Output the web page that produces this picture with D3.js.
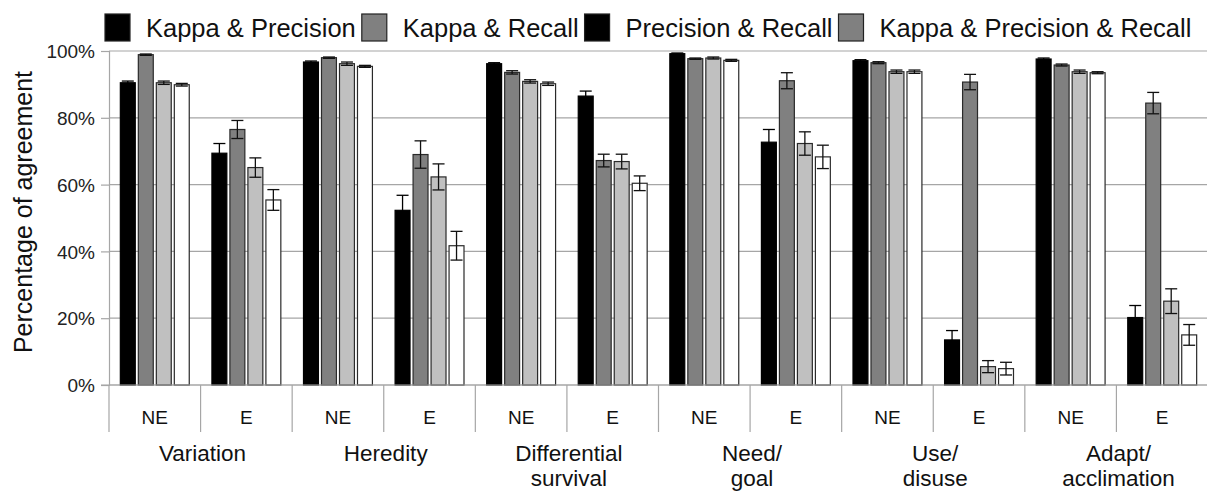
<!DOCTYPE html>
<html>
<head>
<meta charset="utf-8">
<script src="https://cdn.jsdelivr.net/npm/d3@7"></script>
<style>
  html, body { margin: 0; padding: 0; background: #fff; }
  svg { display: block; font-family: "Liberation Sans", Arial, sans-serif; }
</style>
</head>
<body>
<div id="chart"></div>
<script>
// --- data ---
const groups = ["Variation", "Heredity", "Differential\nsurvival", "Need/\ngoal", "Use/\ndisuse", "Adapt/\nacclimation"];
const subLabels = ["NE", "E"];
const seriesNames = ["Kappa & Precision", "Kappa & Recall", "Precision & Recall", "Kappa & Precision & Recall"];
const barColors = ["#000000", "#808080", "#c0c0c0", "#ffffff"];
const legendColors = ["#000000", "#808080", "#000000", "#808080"];

const kappaPrecision = [90.5, 69.4, 96.7, 52.3, 96.2, 86.5, 99.2, 72.7, 97.1, 13.5, 97.6, 20.2];
const kappaRecall = [98.9, 76.5, 98.0, 69.0, 93.6, 67.2, 97.7, 91.1, 96.5, 90.7, 95.8, 84.4];
const precisionRecall = [90.5, 65.1, 96.2, 62.3, 90.9, 66.9, 97.9, 72.3, 93.8, 5.5, 93.8, 25.1];
const allThree = [89.9, 55.4, 95.4, 41.7, 90.2, 60.4, 97.2, 68.3, 93.8, 4.9, 93.5, 15.0];

const errKappaPrecision = [0.5, 2.9, 0.3, 4.5, 0.3, 1.5, 0.2, 3.8, 0.3, 2.8, 0.3, 3.6];
const errKappaRecall = [0.2, 2.7, 0.2, 4.1, 0.5, 1.9, 0.2, 2.4, 0.3, 2.3, 0.3, 3.2];
const errPrecisionRecall = [0.5, 2.9, 0.5, 3.9, 0.5, 2.2, 0.3, 3.5, 0.5, 1.8, 0.5, 3.7];
const errAllThree = [0.4, 3.1, 0.3, 4.3, 0.5, 2.2, 0.3, 3.5, 0.5, 1.9, 0.3, 3.1];

const yTicks = [0, 20, 40, 60, 80, 100];

// --- build ---
const values = [kappaPrecision, kappaRecall, precisionRecall, allThree];
const errors = [errKappaPrecision, errKappaRecall, errPrecisionRecall, errAllThree];
const cats = [];
groups.forEach((g, gi) => subLabels.forEach(s => cats.push({ id: gi + "-" + s, group: gi, label: s })));

const width = 1207, height = 493;
const margin = { left: 109, right: -1, top: 51, bottom: 108 };

const svg = d3.select("#chart").append("svg")
  .attr("width", width).attr("height", height);

const x0 = d3.scaleBand()
  .domain(cats.map(d => d.id))
  .range([margin.left, width - margin.right]);
const x1 = d3.scaleBand()
  .domain(d3.range(seriesNames.length))
  .range([0, x0.bandwidth()])
  .paddingInner(0.17)
  .paddingOuter(0.63);
const y = d3.scaleLinear()
  .domain([0, 100])
  .range([height - margin.bottom, margin.top]);

// gridlines
svg.append("g").selectAll("line")
  .data(yTicks)
  .join("line")
  .attr("x1", margin.left).attr("x2", width)
  .attr("y1", d => y(d)).attr("y2", d => y(d))
  .attr("stroke", "#a6a6a6").attr("stroke-width", 1.2);

// y axis
const yAxis = svg.append("g")
  .attr("transform", `translate(${margin.left},0)`)
  .call(d3.axisLeft(y).tickValues(yTicks).tickSize(8).tickPadding(6).tickFormat(d => d + "%"));
yAxis.select(".domain").attr("stroke", "#a6a6a6").attr("stroke-width", 1.2);
yAxis.selectAll(".tick line").attr("stroke", "#a6a6a6").attr("stroke-width", 1.2);
yAxis.selectAll(".tick text")
  .attr("font-size", 19).attr("fill", "#222")
  .attr("font-family", "Liberation Sans, Arial, sans-serif")
  .attr("dy", "0.35em");

svg.append("text")
  .attr("transform", `translate(32,${(y(0) + y(100)) / 2 - 6}) rotate(-90)`)
  .attr("text-anchor", "middle")
  .attr("font-size", 25)
  .attr("fill", "#111")
  .text("Percentage of agreement");

// bars
const catG = svg.append("g").selectAll("g")
  .data(cats)
  .join("g")
  .attr("transform", d => `translate(${x0(d.id)},0)`);

catG.each(function(c, ci) {
  const g = d3.select(this);
  seriesNames.forEach((s, si) => {
    const v = values[si][ci];
    g.append("rect")
      .attr("x", x1(si))
      .attr("y", y(v))
      .attr("width", x1.bandwidth())
      .attr("height", y(0) - y(v))
      .attr("fill", barColors[si])
      .attr("stroke", si === 0 ? "#000" : "#2a2a2a")
      .attr("stroke-width", 1.2);
  });
  seriesNames.forEach((s, si) => {
    const v = values[si][ci], e = errors[si][ci];
    const cx = x1(si) + x1.bandwidth() / 2;
    const cap = 6;
    const col = si === 0 ? "#000" : "#111";
    g.append("line")
      .attr("x1", cx).attr("x2", cx)
      .attr("y1", y(v + e)).attr("y2", y(v - e))
      .attr("stroke", col).attr("stroke-width", 1.3);
    [v + e, v - e].forEach(t => {
      g.append("line")
        .attr("x1", cx - cap).attr("x2", cx + cap)
        .attr("y1", y(t)).attr("y2", y(t))
        .attr("stroke", col).attr("stroke-width", 1.3);
    });
  });
});

// x axis baseline + separators
svg.append("line")
  .attr("x1", margin.left - 8).attr("x2", width)
  .attr("y1", y(0)).attr("y2", y(0))
  .attr("stroke", "#a6a6a6").attr("stroke-width", 1.2);

svg.append("g").selectAll("line")
  .data(cats)
  .join("line")
  .attr("x1", d => x0(d.id)).attr("x2", d => x0(d.id))
  .attr("y1", y(0)).attr("y2", y(0) + 47)
  .attr("stroke", "#a6a6a6").attr("stroke-width", 1.2);

svg.append("g").selectAll("text")
  .data(cats)
  .join("text")
  .attr("x", d => x0(d.id) + x0.bandwidth() / 2)
  .attr("y", y(0) + 39)
  .attr("text-anchor", "middle")
  .attr("font-size", 19)
  .attr("fill", "#111")
  .text(d => d.label);

const groupText = svg.append("g").selectAll("text")
  .data(groups)
  .join("text")
  .attr("x", (d, gi) => {
    const a = x0(gi + "-" + subLabels[0]);
    const b = x0(gi + "-" + subLabels[subLabels.length - 1]) + x0.bandwidth();
    return (a + b) / 2 + 2;
  })
  .attr("y", y(0) + 76)
  .attr("text-anchor", "middle")
  .attr("font-size", 22.5)
  .attr("fill", "#111");
groupText.each(function(d) {
  const t = d3.select(this);
  d.split("\n").forEach((line, i) => {
    t.append("tspan")
      .attr("x", t.attr("x"))
      .attr("dy", i === 0 ? 0 : 25)
      .text(line);
  });
});

// legend
const legend = svg.append("g");
let lx = 105;
seriesNames.forEach((s, i) => {
  legend.append("rect")
    .attr("x", lx).attr("y", 14)
    .attr("width", 25).attr("height", 27)
    .attr("fill", legendColors[i])
    .attr("stroke", "#222").attr("stroke-width", 1.2);
  const t = legend.append("text")
    .attr("x", lx + 41).attr("y", 37)
    .attr("font-size", 25.5)
    .attr("fill", "#111")
    .text(s);
  lx += 41 + t.node().getComputedTextLength() + 6;
});
</script>
</body>
</html>
